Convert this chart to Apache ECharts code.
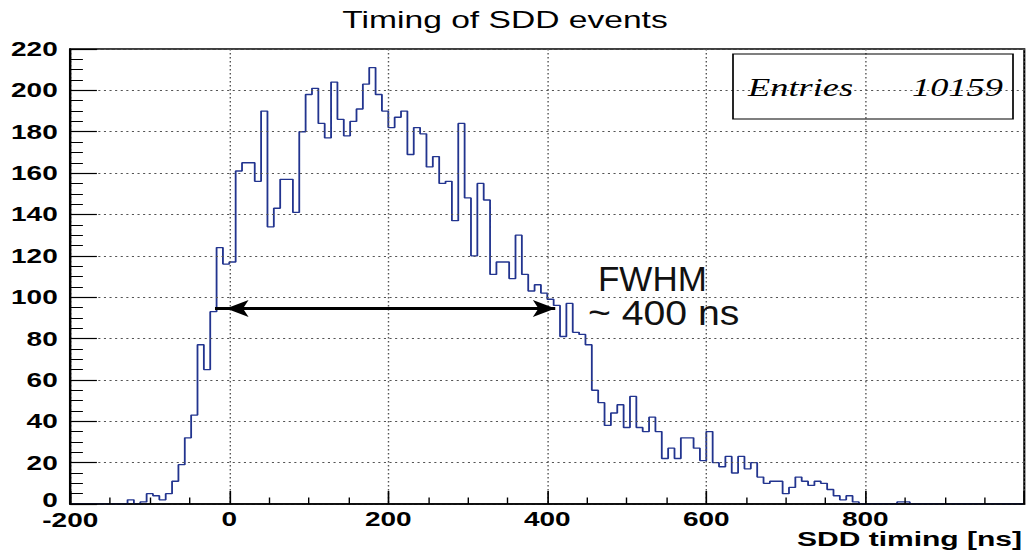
<!DOCTYPE html>
<html><head><meta charset="utf-8">
<script src="https://cdn.jsdelivr.net/npm/echarts@6/dist/echarts.min.js"></script>
<style>
html,body{margin:0;padding:0;background:#fff;overflow:hidden;}
#wrap{width:1029px;height:550px;overflow:hidden;}
#chart{width:735px;height:550px;transform:scaleX(1.4);transform-origin:0 0;}
</style></head><body><div id="wrap"><div id="chart"></div></div>
<script>
// ---- data (8 ns bins from -200 ns) ----
const binStart = -200;
const binWidth = 8;
const binCounts = [
  0,0,0,0,0,0,0,0,0,2,           // -200 .. -128
  0,1,5,4,2,5,11,19,32,43,       // -120 .. -48
  77,65,93,124,116,117,161,165,165,156, // -40 .. 32
  190,134,143,157,157,141,180,198,201,184, // 40 .. 112
  177,204,186,178,185,191,203,211,198,190, // 120 .. 192
  182,187,190,169,182,179,163,168,155,156, // 200 .. 272
  137,184,148,120,155,147,111,117,117,109, // 280 .. 352
  130,111,103,106,102,99,96,81,97,83,      // 360 .. 432
  82,77,55,49,38,44,48,37,52,37,           // 440 .. 512
  35,42,35,22,27,22,32,32,27,21,           // 520 .. 592
  35,20,18,23,15,23,17,20,13,10,           // 600 .. 672
  11,11,5,8,13,11,9,11,10,7,               // 680 .. 752
  4,2,4,1,0,0,0,0,0,0,                     // 760 .. 832
  1,1,0,0,0,0,0,0,0,0,                     // 840 .. 912
  0,0,0,0,0,0,0,0,0,0                      // 920 .. 992
];
const xMin = -200, xMax = 1000, xStep = 200;
const yMin = 0, yMax = 220, yStep = 20;
const titleText = 'Timing of SDD events';
const xAxisTitle = 'SDD timing [ns]';
const entriesLabel = 'Entries';
const entriesValue = '10159';
const fwhmLine1 = 'FWHM';
const fwhmLine2 = '~ 400 ns';
const fwhmFrom = -18, fwhmTo = 410, fwhmLevel = 94.5;

// ---- build histogram outline points ----
const histPoints = binCounts.map((c, i) => [binStart + i * binWidth, c]);
histPoints.push([binStart + binCounts.length * binWidth, 0]);

const S = 1.4; // horizontal stretch of the reference picture
const chart = echarts.init(document.getElementById('chart'), null, {renderer: 'svg', width: 735, height: 550});
const labelFont = {fontFamily: '"Liberation Sans", Arial, sans-serif', fontWeight: 'bold', fontSize: 20, color: '#000'};
const gridLine = {show: true, lineStyle: {color: '#555', width: 1, type: [1.5, 2.5]}};

chart.setOption({
  animation: false,
  backgroundColor: '#fff',
  grid: {left: 70.3 / S, right: (1029 - 1024.3) / S, top: 49, bottom: 46, show: true, borderColor: '#000', borderWidth: 1.5, backgroundColor: 'transparent'},
  xAxis: {
    type: 'value', min: xMin, max: xMax, interval: xStep, z: 3,
    axisLine: {show: true, onZero: false, lineStyle: {color: '#000', width: 1.5}},
    axisTick: {show: true, inside: true, length: 13, lineStyle: {color: '#000', width: 1.2}},
    minorTick: {show: true, splitNumber: 4, length: 6.5, lineStyle: {color: '#000', width: 1}},
    axisLabel: Object.assign({
      margin: 7.5, showMaxLabel: false, lineHeight: 15,
      formatter: v => (v === xMin ? '{low|' + v + '}' : String(v)),
      rich: {low: Object.assign({lineHeight: 15, padding: [3, 0, 0, 0]}, labelFont)}
    }, labelFont),
    splitLine: gridLine
  },
  yAxis: {
    type: 'value', min: yMin, max: yMax, interval: yStep, z: 3,
    axisLine: {show: true, onZero: false, lineStyle: {color: '#000', width: 1.5}},
    axisTick: {show: true, inside: true, length: 19, lineStyle: {color: '#000', width: 1.2}},
    minorTick: {show: true, splitNumber: 4, length: 9, lineStyle: {color: '#000', width: 1}},
    axisLabel: Object.assign({
      margin: 9, lineHeight: 14, verticalAlign: 'middle',
      formatter: v => (v === yMin ? '{lift|' + v + '}' : String(v)),
      rich: {lift: Object.assign({lineHeight: 14, padding: [0, 0, 8, 0]}, labelFont)}
    }, labelFont),
    splitLine: gridLine
  },
  series: [{
    type: 'line', step: 'end', data: histPoints, showSymbol: false, symbol: 'none',
    lineStyle: {color: '#22348f', width: 1.3},
    z: 2,
    markLine: {
      silent: true, animation: false,
      symbol: ['arrow', 'arrow'], symbolSize: [12.75, 16], symbolOffset: [[0, 8], [0, 0]],
      lineStyle: {color: '#000', width: 3, type: 'solid'},
      itemStyle: {color: '#000'},
      label: {show: false},
      emphasis: {disabled: true},
      data: [[{coord: [fwhmFrom, fwhmLevel]}, {coord: [fwhmTo, fwhmLevel]}]]
    }
  }],
  graphic: [
    {type: 'text', x: 505 / S, y: 20, z: 10, style: {text: titleText, fontFamily: '"Liberation Sans", Arial, sans-serif', fontSize: 24, fill: '#000', align: 'center', verticalAlign: 'middle'}},
    {type: 'text', x: 1022 / S, y: 539.5, z: 10, scaleX: 1.1, style: {text: xAxisTitle, fontFamily: '"Liberation Sans", Arial, sans-serif', fontWeight: 'bold', fontSize: 19.5, lineHeight: 16, fill: '#000', align: 'right', verticalAlign: 'middle'}},
    {type: 'rect', z: 10, shape: {x: 733 / S, y: 54, width: (1013 - 733) / S, height: 65}, style: {fill: 'none', stroke: '#000', lineWidth: 1.2}},
    {type: 'text', x: 748 / S, y: 87, z: 10, style: {text: entriesLabel, fontFamily: '"Liberation Serif", "Times New Roman", serif', fontStyle: 'italic', fontSize: 26, fill: '#000', align: 'left', verticalAlign: 'middle'}},
    {type: 'text', x: 1003 / S, y: 87, z: 10, style: {text: entriesValue, fontFamily: '"Liberation Serif", "Times New Roman", serif', fontStyle: 'italic', fontSize: 26, fill: '#000', align: 'right', verticalAlign: 'middle'}},
    {type: 'text', x: 598 / S, y: 278, z: 10, scaleX: 1 / S, style: {text: fwhmLine1, fontFamily: '"Liberation Sans", Arial, sans-serif', fontSize: 35, fill: '#111', align: 'left', verticalAlign: 'middle'}},
    {type: 'text', x: 588 / S, y: 313, z: 10, scaleX: 1.12 / S, style: {text: fwhmLine2, fontFamily: '"Liberation Sans", Arial, sans-serif', fontSize: 35, fill: '#111', align: 'left', verticalAlign: 'middle'}}
  ]
});
</script></body></html>
